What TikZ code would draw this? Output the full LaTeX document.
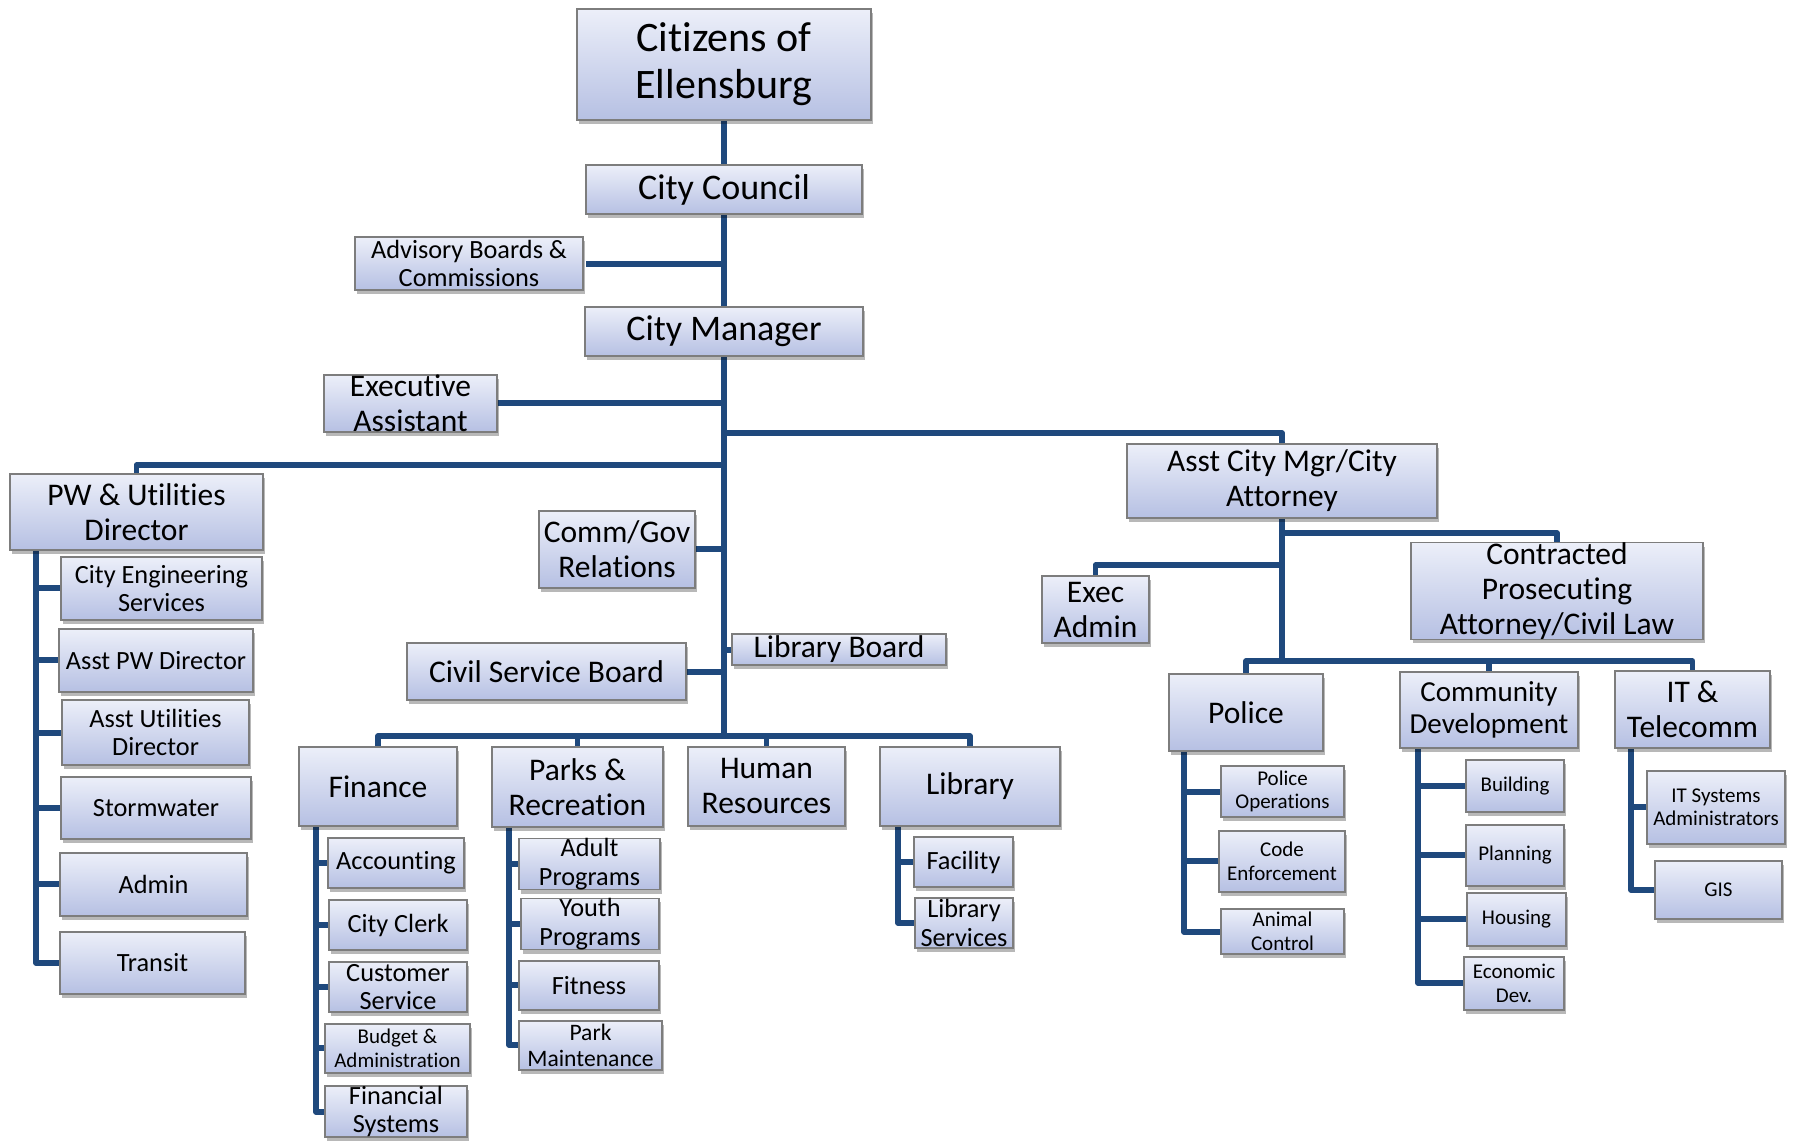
\documentclass[tikz,border=0pt]{standalone}
\usepackage{fontspec}
\setmainfont{Carlito}[Ligatures=NoCommon]
\usetikzlibrary{shadows}
\definecolor{bxtop}{RGB}{236,239,249}
\definecolor{bxbot}{RGB}{182,192,227}
\definecolor{bxline}{RGB}{125,125,125}
\definecolor{navy}{RGB}{31,73,125}
\tikzset{
  box/.style={draw=bxline, line width=1.4pt, top color=bxtop, bottom color=bxbot,
    inner sep=0pt, align=center, text=black,
    drop shadow={shadow xshift=2pt, shadow yshift=-4pt, opacity=.28, fill=black}},
  conn/.style={draw=navy, line width=5.5pt, line join=round},
  fA/.style={font=\fontsize{42pt}{47pt}\selectfont},
  fB/.style={font=\fontsize{36pt}{40pt}\selectfont},
  fC/.style={font=\fontsize{31.5pt}{35pt}\selectfont},
  fD/.style={font=\fontsize{29pt}{32.5pt}\selectfont},
  fE/.style={font=\fontsize{26.3pt}{28.5pt}\selectfont},
  fF/.style={font=\fontsize{23.6pt}{26pt}\selectfont},
  fG/.style={font=\fontsize{21pt}{23.5pt}\selectfont},
}
\newcommand\bx[7]{\node[box,#6, minimum width={(#4-#2)*1pt}, minimum height={(#5-#3)*1pt}] (#1) at ({(#2+#4)/2},{(#3+#5)/2}) {#7};}
\begin{document}
\begin{tikzpicture}[x=1pt,y=-1pt]
\useasboundingbox[fill=white] (0,0) rectangle (1797,1143);
% junction coordinates
\coordinate (jR) at (724,433);
\coordinate (jL) at (724,465);
\coordinate (jB) at (724,736);
\coordinate (jC) at (1282,533);
\coordinate (jE) at (1282,565);
\coordinate (jD) at (1282,661);
\coordinate (pwt) at (36,550);
\coordinate (fint) at (316,826);
\coordinate (part) at (509,827);
\coordinate (libt) at (898,826);
\coordinate (polt) at (1184,751);
\coordinate (cdt) at (1418,748);
\coordinate (itt) at (1631,748);
% connectors (drawn first, under boxes)
\draw[conn] (724,120) -- (jB);
\draw[conn] (724,264) -- (586,264);
\draw[conn] (724,403) -- (497,403);
\draw[conn] (jR) -| (1282,444);
\draw[conn] (jL) -| (136.5,474);
\draw[conn] (724,549) -- (695,549);
\draw[conn] (724,650) -- (732,650);
\draw[conn] (724,672) -- (686,672);
\draw[conn] (378,747) |- (jB) -| (970,747);
\draw[conn] (577.5,747) -- (577.5,736);
\draw[conn] (766.5,747) -- (766.5,736);
\draw[conn] (1282,518) -- (jD);
\draw[conn] (jC) -| (1557,543);
\draw[conn] (jE) -| (1095.5,576);
\draw[conn] (1246,674) |- (jD) -| (1692.5,671);
\draw[conn] (1489,672) -- (1489,661);
% sub trunks
\draw[conn] (pwt) |- (60,963);
\foreach \yy in {588,660,733,808,884} \draw[conn] (36,\yy) -- (61,\yy);
\draw[conn] (fint) |- (325,1112);
\foreach \yy in {863,925,987,1048} \draw[conn] (316,\yy) -- (328,\yy);
\draw[conn] (part) |- (519,1045);
\foreach \yy in {864,924,985} \draw[conn] (509,\yy) -- (520,\yy);
\draw[conn] (libt) |- (915,923);
\draw[conn] (898,862) -- (914,862);
\draw[conn] (polt) |- (1221,932);
\foreach \yy in {792,861} \draw[conn] (1184,\yy) -- (1220,\yy);
\draw[conn] (cdt) |- (1464,983);
\foreach \yy in {786,855,919} \draw[conn] (1418,\yy) -- (1466,\yy);
\draw[conn] (itt) |- (1655,890);
\draw[conn] (1631,807) -- (1647,807);
% boxes
\bx{cit}{577}{9}{871}{120}{fA}{Citizens of\\Ellensburg}
\bx{council}{586}{165}{862}{214}{fB}{City Council}
\bx{adv}{355}{237}{583}{290}{fE}{Advisory Boards \&\\Commissions}
\bx{mgr}{585}{307}{863}{356}{fB}{City Manager}
\bx{ea}{324}{378}{497}{429}{fC}{Executive\\Assistant}
\bx{pw}{10}{474}{263}{550}{fC}{PW \& Utilities\\Director}
\bx{ce}{61}{557}{262}{620}{fE}{City Engineering\\Services}
\bx{apw}{59}{629}{253}{692}{fE}{Asst PW Director}
\bx{aud}{62}{700}{249}{765}{fE}{Asst Utilities\\Director}
\bx{sw}{61}{777}{251}{839}{fE}{Stormwater}
\bx{adm}{60}{853}{247}{916}{fE}{Admin}
\bx{tr}{60}{932}{245}{994}{fE}{Transit}
\bx{cg}{539}{511}{695}{588}{fC}{Comm/Gov\\Relations}
\bx{lb}{732}{634}{946}{665}{fC}{Library Board}
\bx{cs}{407}{643}{686}{700}{fC}{Civil Service Board}
\bx{fin}{299}{747}{457}{826}{fC}{Finance}
\bx{par}{492}{747}{663}{827}{fC}{Parks \&\\Recreation}
\bx{hr}{688}{747}{845}{826}{fC}{Human\\Resources}
\bx{lib}{880}{747}{1060}{826}{fC}{Library}
\bx{acc}{328}{838}{464}{888}{fE}{Accounting}
\bx{cc}{329}{900}{467}{950}{fE}{City Clerk}
\bx{cus}{329}{962}{467}{1012}{fE}{Customer\\Service}
\bx{bud}{325}{1024}{470}{1073}{fG}{Budget \&\\Administration}
\bx{fs}{325}{1087}{467}{1136}{fE}{Financial\\Systems}
\bx{adu}{519}{840}{660}{888}{fE}{Adult\\Programs}
\bx{you}{521}{900}{659}{948}{fE}{Youth\\Programs}
\bx{fit}{519}{961}{659}{1010}{fE}{Fitness}
\bx{pm}{519}{1021}{662}{1070}{fF}{Park\\Maintenance}
\bx{fac}{914}{837}{1013}{887}{fE}{Facility}
\bx{ls}{915}{898}{1013}{948}{fE}{Library\\Services}
\bx{acm}{1127}{444}{1437}{518}{fC}{Asst City Mgr/City\\Attorney}
\bx{ead}{1042}{576}{1149}{643}{fC}{Exec\\Admin}
\bx{cpa}{1411}{543}{1703}{639}{fC}{Contracted\\Prosecuting\\Attorney/Civil Law}
\bx{pol}{1169}{674}{1323}{751}{fC}{Police}
\bx{cd}{1400}{672}{1578}{748}{fD}{Community\\Development}
\bx{it}{1615}{671}{1770}{748}{fC}{IT \&\\Telecomm}
\bx{po}{1221}{766}{1344}{817}{fG}{Police\\Operations}
\bx{code}{1219}{831}{1345}{892}{fG}{Code\\Enforcement}
\bx{ac}{1221}{909}{1344}{954}{fG}{Animal\\Control}
\bx{bld}{1466}{760}{1564}{812}{fG}{Building}
\bx{pln}{1466}{825}{1564}{886}{fG}{Planning}
\bx{hou}{1467}{893}{1566}{946}{fG}{Housing}
\bx{eco}{1464}{957}{1564}{1010}{fG}{Economic\\Dev.}
\bx{its}{1647}{771}{1785}{844}{fG}{IT Systems\\Administrators}
\bx{gis}{1655}{861}{1782}{919}{fG}{GIS}
\end{tikzpicture}
\end{document}
